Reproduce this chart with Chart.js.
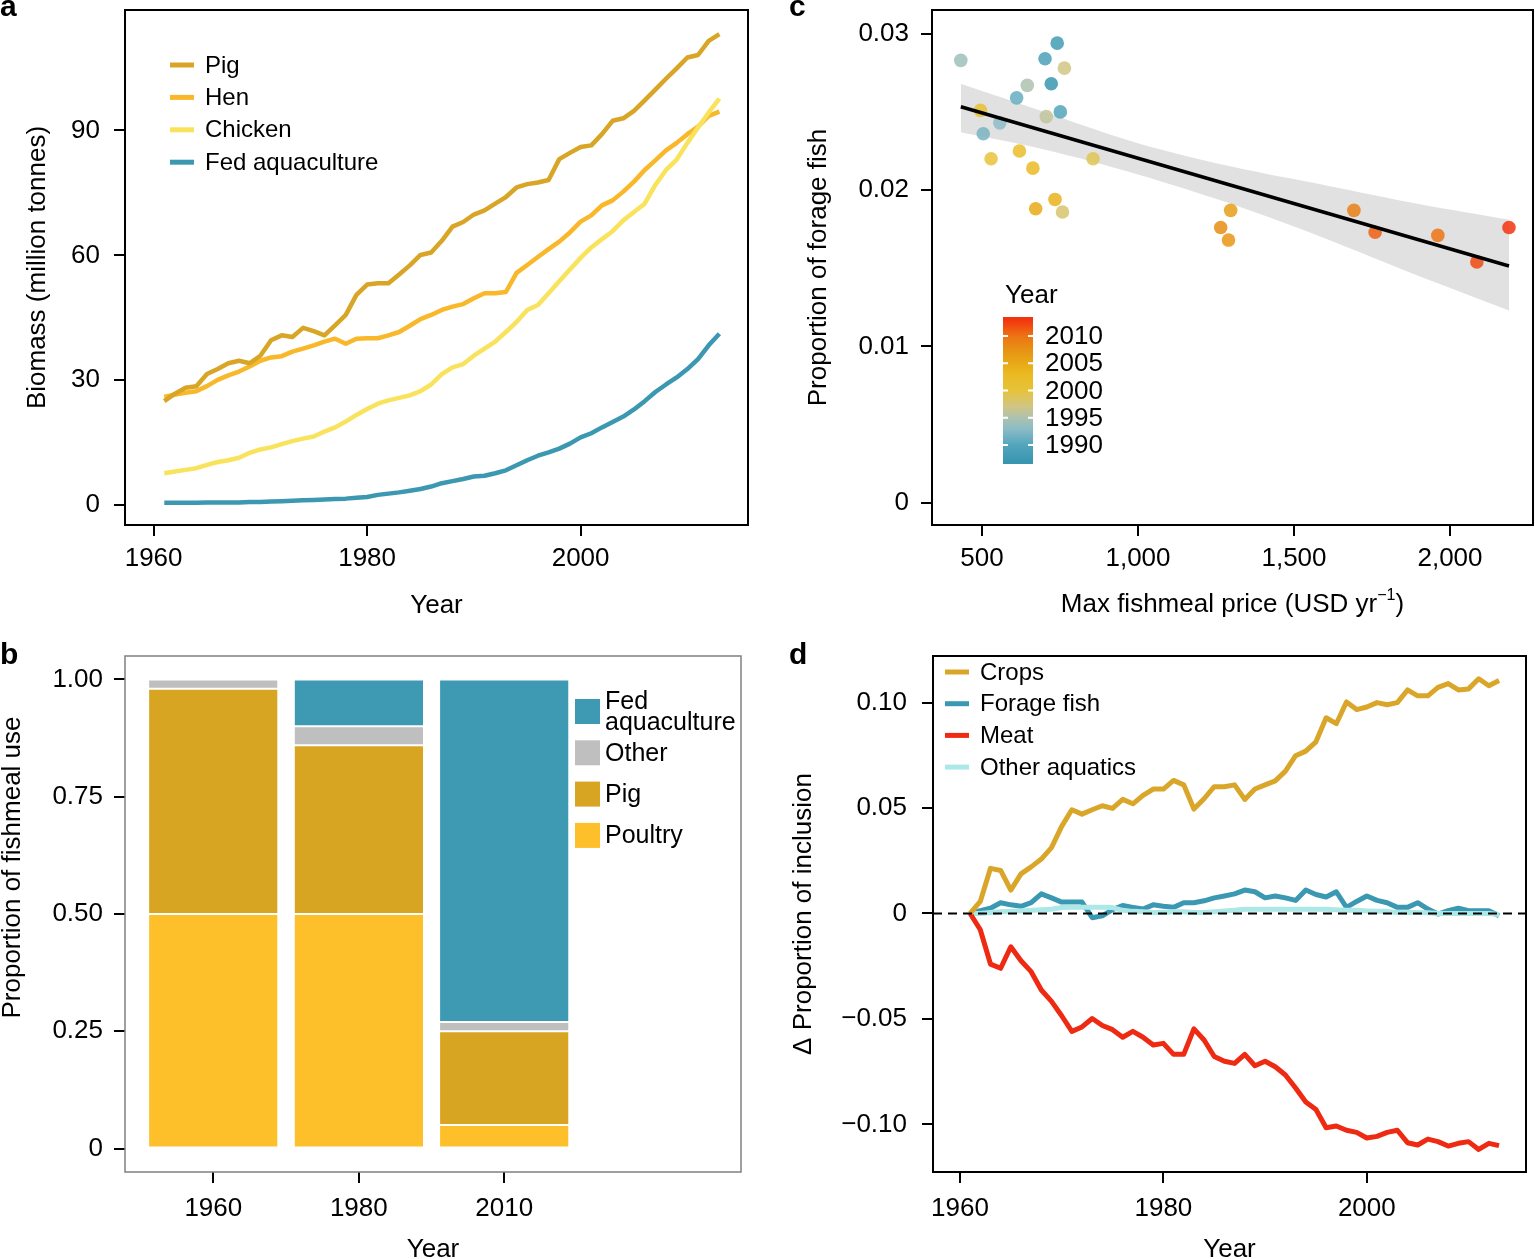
<!DOCTYPE html>
<html>
<head>
<meta charset="utf-8">
<title>Fishmeal and feed</title>
<script src="https://cdn.jsdelivr.net/npm/chart.js@4.4.1/dist/chart.umd.min.js"></script>
<style>
  html, body { margin: 0; padding: 0; background: #fff; }
  body { position: relative; width: 1535px; height: 1259px; overflow: hidden;
         font-family: 'Liberation Sans', Arial, Helvetica, sans-serif; }
  .panel { position: absolute; }
  .tag { position: absolute; font-size: 30px; font-weight: bold; line-height: 30px; }
</style>
</head>
<body>
<canvas id="chartA" class="panel" width="760" height="640" style="left:0;top:0"></canvas>
<canvas id="chartB" class="panel" width="760" height="640" style="left:0;top:640px"></canvas>
<canvas id="chartC" class="panel" width="775" height="640" style="left:760px;top:0"></canvas>
<canvas id="chartD" class="panel" width="775" height="640" style="left:760px;top:640px"></canvas>
<div class="tag" style="left:0;top:-9px">a</div>
<div class="tag" style="left:0;top:639px">b</div>
<div class="tag" style="left:789px;top:-9px">c</div>
<div class="tag" style="left:789px;top:639px">d</div>
<script>
// ---- data: panel a (biomass, million tonnes) ----
var years = [];
for (var yr = 1961; yr <= 2013; yr++) years.push(yr);

var pigBiomass = [25.0, 26.8, 28.2, 28.6, 31.5, 32.7, 34.1, 34.7, 34.1, 35.9,
  39.6, 40.8, 40.4, 42.6, 41.8, 40.8, 43.2, 45.7, 50.5, 53.0,
  53.3, 53.3, 55.4, 57.6, 60.1, 60.7, 63.5, 66.9, 68.0, 69.8,
  70.8, 72.4, 74.0, 76.3, 77.1, 77.5, 78.1, 83.1, 84.6, 86.0,
  86.4, 89.1, 92.3, 92.9, 94.7, 97.2, 99.8, 102.4, 104.9, 107.5,
  108.1, 111.5, 113.1];
var henBiomass = [26.0, 26.6, 27.0, 27.4, 28.6, 30.1, 31.2, 32.1, 33.3, 34.7,
  35.5, 35.8, 36.9, 37.6, 38.4, 39.3, 40.0, 38.8, 40.0, 40.1,
  40.1, 40.8, 41.6, 43.1, 44.7, 45.7, 46.9, 47.7, 48.3, 49.7,
  50.9, 50.9, 51.2, 55.8, 57.7, 59.6, 61.5, 63.3, 65.5, 68.1,
  69.6, 72.0, 73.2, 75.3, 77.7, 80.5, 82.8, 85.2, 87.0, 89.1,
  90.9, 93.5, 94.5];
var chickenBiomass = [7.7, 8.1, 8.5, 8.9, 9.7, 10.4, 10.8, 11.4, 12.6, 13.4,
  13.9, 14.7, 15.4, 16.0, 16.5, 17.7, 18.7, 20.1, 21.7, 23.1,
  24.4, 25.2, 25.8, 26.4, 27.4, 29.0, 31.5, 33.1, 33.9, 35.9,
  37.6, 39.3, 41.6, 44.0, 46.9, 48.1, 50.9, 53.8, 56.6, 59.4,
  61.9, 63.9, 65.8, 68.4, 70.4, 72.4, 76.9, 80.5, 83.0, 87.0,
  90.7, 94.3, 97.6];
var aquaBiomass = [0.6, 0.6, 0.6, 0.6, 0.7, 0.7, 0.7, 0.7, 0.8, 0.8,
  0.9, 1.0, 1.1, 1.2, 1.3, 1.4, 1.5, 1.6, 1.8, 2.0,
  2.5, 2.8, 3.1, 3.5, 3.9, 4.5, 5.3, 5.8, 6.3, 6.9,
  7.1, 7.7, 8.4, 9.6, 10.8, 11.9, 12.7, 13.6, 14.8, 16.3,
  17.3, 18.7, 20.0, 21.3, 23.0, 25.0, 27.2, 29.0, 30.7, 32.7,
  35.1, 38.4, 41.2];
var biomassTicks = [0, 30, 60, 90];
var yearTicks = [1960, 1980, 2000];

// ---- data: panel b (share of fishmeal use) ----
var useYears = ['1960', '1980', '2010'];
var poultryShare = [0.50, 0.50, 0.05];
var pigShare = [0.48, 0.36, 0.20];
var otherShare = [0.02, 0.04, 0.02];
var aquacultureShare = [0.00, 0.10, 0.73];
var shareTicks = [0, 0.25, 0.5, 0.75, 1];
var shareTickLabels = ['0', '0.25', '0.50', '0.75', '1.00'];

// ---- data: panel c (forage fish vs fishmeal price) ----
var priceYears = [1987, 1988, 1989, 1990, 1991, 1992, 1993, 1994, 1995, 1996,
  1997, 1998, 1999, 2000, 2001, 2002, 2003, 2004, 2005, 2006,
  2007, 2008, 2009, 2010, 2011, 2012, 2013];
var maxPrice = [722, 741, 702, 751, 611, 504, 557, 432, 645, 706,
  764, 758, 856, 529, 495, 620, 663, 734, 672, 1297,
  1290, 1265, 1692, 1961, 1760, 2086, 2189];
var forageShare = [0.0268, 0.0294, 0.0284, 0.0250, 0.0259, 0.0236, 0.0243, 0.0283, 0.0267, 0.0247,
  0.0278, 0.0186, 0.0220, 0.0220, 0.0251, 0.0225, 0.0214, 0.0194, 0.0188, 0.0187,
  0.0168, 0.0176, 0.0187, 0.0171, 0.0173, 0.0154, 0.0176];
var fitPrice = [432, 2189];
var fitShare = [0.02533, 0.01514];
var bandPrice = [432, 700, 1000, 1300, 1600, 1900, 2189];
var bandUpper = [0.0268, 0.0250, 0.0230, 0.0215, 0.0203, 0.0191, 0.0181];
var bandLower = [0.0237, 0.0226, 0.0210, 0.0191, 0.0169, 0.0145, 0.0123];
var priceTicks = [500, 1000, 1500, 2000];
var priceTickLabels = ['500', '1,000', '1,500', '2,000'];
var forageTicks = [0, 0.01, 0.02, 0.03];
var forageTickLabels = ['0', '0.01', '0.02', '0.03'];
var colorbarTicks = [1990, 1995, 2000, 2005, 2010];

// ---- data: panel d (change in proportion of inclusion) ----
var cropsDelta = [0, 0.0057, 0.0214, 0.0204, 0.0111, 0.0188, 0.0221, 0.0258, 0.0312, 0.0413,
  0.0492, 0.0471, 0.0492, 0.0511, 0.0498, 0.0541, 0.0520, 0.0560, 0.0590, 0.0590,
  0.0631, 0.0610, 0.0495, 0.0544, 0.0601, 0.0601, 0.0610, 0.0541, 0.0590, 0.0610,
  0.0629, 0.0675, 0.0748, 0.0770, 0.0814, 0.0928, 0.0900, 0.1003, 0.0967, 0.0979,
  0.1000, 0.0990, 0.1000, 0.1060, 0.1032, 0.1032, 0.1072, 0.1090, 0.1060, 0.1065,
  0.1113, 0.1080, 0.1105];
var forageDelta = [0, 0.0013, 0.0025, 0.0051, 0.0041, 0.0034, 0.0051, 0.0093, 0.0074, 0.0054,
  0.0054, 0.0054, -0.0020, -0.0011, 0.0018, 0.0038, 0.0029, 0.0021, 0.0041, 0.0034,
  0.0029, 0.0051, 0.0051, 0.0060, 0.0074, 0.0083, 0.0093, 0.0111, 0.0103, 0.0074,
  0.0083, 0.0074, 0.0062, 0.0111, 0.0090, 0.0078, 0.0103, 0.0029, 0.0057, 0.0083,
  0.0062, 0.0051, 0.0029, 0.0029, 0.0051, 0.0021, -0.0003, 0.0013, 0.0025, 0.0013,
  0.0013, 0.0013, -0.0011];
var meatDelta = [0, -0.0077, -0.0240, -0.0260, -0.0158, -0.0224, -0.0276, -0.0363, -0.0417, -0.0485,
  -0.0559, -0.0538, -0.0498, -0.0531, -0.0551, -0.0587, -0.0559, -0.0587, -0.0624, -0.0616,
  -0.0668, -0.0668, -0.0547, -0.0600, -0.0678, -0.0701, -0.0711, -0.0668, -0.0722, -0.0701,
  -0.0727, -0.0766, -0.0828, -0.0894, -0.0930, -0.1016, -0.1008, -0.1028, -0.1038, -0.1065,
  -0.1057, -0.1038, -0.1028, -0.1087, -0.1098, -0.1070, -0.1082, -0.1103, -0.1090, -0.1082,
  -0.1119, -0.1090, -0.1101];
var otherAquaDelta = [0, 0, 0.0005, 0.0008, 0.0010, 0.0012, 0.0015, 0.0018, 0.0020, 0.0028,
  0.0030, 0.0030, 0.0030, 0.0030, 0.0028, 0.0015, 0.0010, 0.0008, 0.0005, 0.0005,
  0.0008, 0.0008, 0.0005, 0.0005, 0.0008, 0.0012, 0.0015, 0.0020, 0.0020, 0.0020,
  0.0020, 0.0020, 0.0020, 0.0020, 0.0020, 0.0020, 0.0018, 0.0015, 0.0015, 0.0012,
  0.0010, 0.0010, 0.0005, 0.0005, 0.0005, 0.0003, 0, 0, 0, 0,
  0, 0, -0.0005];
var inclusionTicks = [-0.1, -0.05, 0, 0.05, 0.1];
var inclusionTickLabels = ['\u22120.10', '\u22120.05', '0', '0.05', '0.10'];

// colour ramp used for the year scale in panel c
var rampYears = [1987, 1990, 1993, 1995, 1997, 2000, 2003, 2005, 2008, 2010, 2013];
var rampColors = ['#3a96b0', '#52a5bd', '#8cbcc5', '#adc2ae', '#d0c586', '#e6c33a',
  '#eaba22', '#e8a917', '#e88c13', '#ec7414', '#f2340e'];

(function() {
    'use strict';

    var FAMILY = "'Liberation Sans', Arial, Helvetica, sans-serif";
    Chart.defaults.font.family = FAMILY;
    Chart.defaults.color = '#000';
    Chart.defaults.animation = false;

    function pairs(xs, ys) {
        return ys.map(function(v, i) { return { x: xs[i], y: v }; });
    }

    function axis(o) {
        return {
            type: 'linear',
            min: o.min,
            max: o.max,
            stacked: !!o.stacked,
            offset: false,
            afterBuildTicks: function(sc) {
                sc.ticks = o.ticks.map(function(v) { return { value: v }; });
            },
            afterFit: function(sc) {
                if (o.horizontal) sc.height = o.size; else sc.width = o.size;
                // keep the plot box exactly where the layout padding puts it
                sc.paddingTop = 0; sc.paddingBottom = 0;
                sc.paddingLeft = 0; sc.paddingRight = 0;
            },
            grid: { drawOnChartArea: false, drawTicks: true, tickLength: 11, offset: false,
                    color: '#000', lineWidth: 2 },
            border: { display: false },
            ticks: {
                font: { size: 26 }, color: '#000', padding: o.padding,
                autoSkip: false, maxRotation: 0, minRotation: 0,
                callback: function(v) {
                    var i = o.ticks.indexOf(v);
                    return o.labels ? o.labels[i] : String(v);
                }
            },
            title: o.title
                ? { display: true, text: o.title, font: { size: 26 }, color: '#000', padding: o.titlePad }
                : { display: false }
        };
    }

    function frame(color, width) {
        return {
            id: 'frame',
            afterDatasetsDraw: function(chart) {
                var a = chart.chartArea, ctx = chart.ctx;
                ctx.save();
                ctx.strokeStyle = color;
                ctx.lineWidth = width;
                ctx.strokeRect(a.left, a.top, a.right - a.left, a.bottom - a.top);
                ctx.restore();
            }
        };
    }

    function lineLegend(cfg) {
        return {
            id: 'lineLegend',
            afterDraw: function(chart) {
                var ctx = chart.ctx;
                ctx.save();
                ctx.font = cfg.size + 'px ' + FAMILY;
                ctx.textBaseline = 'middle';
                cfg.order.forEach(function(di, row) {
                    var ds = chart.data.datasets[di];
                    var y = cfg.y + row * cfg.step;
                    ctx.strokeStyle = ds.borderColor;
                    ctx.lineWidth = cfg.lineWidth;
                    ctx.beginPath();
                    ctx.moveTo(cfg.x, y);
                    ctx.lineTo(cfg.x + cfg.swatch, y);
                    ctx.stroke();
                    ctx.fillStyle = '#000';
                    ctx.fillText(ds.label, cfg.textX, y + 1);
                });
                ctx.restore();
            }
        };
    }

    function boxLegend(cfg) {
        return {
            id: 'boxLegend',
            afterDraw: function(chart) {
                var ctx = chart.ctx;
                ctx.save();
                ctx.font = cfg.size + 'px ' + FAMILY;
                ctx.textBaseline = 'middle';
                cfg.order.forEach(function(di, row) {
                    var ds = chart.data.datasets[di];
                    var top = cfg.y + row * cfg.step;
                    ctx.fillStyle = ds.backgroundColor;
                    ctx.fillRect(cfg.x, top, cfg.box, cfg.box);
                    var lines = ds.label.split('\n');
                    var mid = top + cfg.box / 2;
                    var first = mid - (lines.length - 1) * cfg.lineHeight / 2;
                    ctx.fillStyle = '#000';
                    lines.forEach(function(t, k) {
                        ctx.fillText(t, cfg.textX, first + k * cfg.lineHeight + 1);
                    });
                });
                ctx.restore();
            }
        };
    }

    function textNote(cfg) {
        return {
            id: 'textNote' + cfg.key,
            afterDraw: function(chart) {
                var ctx = chart.ctx;
                ctx.save();
                ctx.translate(cfg.x, cfg.y);
                if (cfg.rotate) ctx.rotate(cfg.rotate);
                ctx.textBaseline = 'middle';
                ctx.textAlign = 'left';
                ctx.fillStyle = '#000';
                var parts = cfg.parts;
                var total = 0;
                parts.forEach(function(p) {
                    ctx.font = (p.sup ? cfg.size * 0.62 : cfg.size) + 'px ' + FAMILY;
                    p.w = ctx.measureText(p.text).width;
                    total += p.w;
                });
                var x = -total / 2;
                parts.forEach(function(p) {
                    ctx.font = (p.sup ? cfg.size * 0.62 : cfg.size) + 'px ' + FAMILY;
                    ctx.fillText(p.text, x, p.sup ? -cfg.size * 0.36 : 0);
                    x += p.w;
                });
                ctx.restore();
            }
        };
    }

    function hexToRgb(h) {
        var n = parseInt(h.slice(1), 16);
        return [(n >> 16) & 255, (n >> 8) & 255, n & 255];
    }

    function yearColor(year, alpha) {
        var i = 0;
        while (i < rampYears.length - 2 && year > rampYears[i + 1]) i++;
        var t = (year - rampYears[i]) / (rampYears[i + 1] - rampYears[i]);
        t = Math.max(0, Math.min(1, t));
        var a = hexToRgb(rampColors[i]), b = hexToRgb(rampColors[i + 1]);
        var c = a.map(function(v, k) { return Math.round(v + (b[k] - v) * t); });
        return 'rgba(' + c.join(',') + ',' + alpha + ')';
    }

    var colorBar = {
        id: 'colorBar',
        afterDraw: function(chart) {
            var ctx = chart.ctx;
            var left = 243, width = 30, top = 317, bottom = 464;
            var lo = priceYears[0] - 0.5, hi = priceYears[priceYears.length - 1] + 0.5;
            var g = ctx.createLinearGradient(0, bottom, 0, top);
            rampYears.forEach(function(y, k) {
                var f = (y - lo) / (hi - lo);
                g.addColorStop(Math.max(0, Math.min(1, f)), rampColors[k]);
            });
            ctx.save();
            ctx.fillStyle = g;
            ctx.fillRect(left, top, width, bottom - top);
            ctx.font = '26px ' + FAMILY;
            ctx.textBaseline = 'middle';
            ctx.fillStyle = '#000';
            ctx.fillText('Year', 245, 296);
            colorbarTicks.forEach(function(y) {
                var py = bottom - (y - lo) / (hi - lo) * (bottom - top);
                ctx.strokeStyle = '#fff';
                ctx.lineWidth = 2;
                ctx.beginPath();
                ctx.moveTo(left, py); ctx.lineTo(left + 5, py);
                ctx.moveTo(left + width - 5, py); ctx.lineTo(left + width, py);
                ctx.stroke();
                ctx.fillStyle = '#000';
                ctx.fillText(String(y), 285, py + 1);
            });
            ctx.restore();
        }
    };

    function zeroLine() {
        return {
            id: 'zeroLine',
            afterDatasetsDraw: function(chart) {
                var a = chart.chartArea, ctx = chart.ctx;
                var y = chart.scales.y.getPixelForValue(0);
                ctx.save();
                ctx.strokeStyle = '#000';
                ctx.lineWidth = 2;
                ctx.setLineDash([9, 6]);
                ctx.beginPath();
                ctx.moveTo(a.left, y);
                ctx.lineTo(a.right, y);
                ctx.stroke();
                ctx.restore();
            }
        };
    }

    var common = {
        responsive: false,
        events: [],
        plugins: { legend: { display: false }, tooltip: { enabled: false } },
        elements: { point: { radius: 0 }, line: { tension: 0, borderJoinStyle: 'round', borderCapStyle: 'butt' } }
    };

    function layoutPad(top, right) {
        return { autoPadding: false, padding: { left: 0, top: top, right: right, bottom: 0 } };
    }

    function lineSet(label, xs, ys, color, width, order) {
        return { label: label, data: pairs(xs, ys), borderColor: color, backgroundColor: color,
                 borderWidth: width, pointRadius: 0, fill: false, order: order };
    }

    // ---- a ----
    new Chart(document.getElementById('chartA'), {
        type: 'line',
        data: {
            datasets: [
                lineSet('Pig', years, pigBiomass, '#d8a526', 4.5, 0),
                lineSet('Hen', years, henBiomass, '#f8b82a', 4.5, 2),
                lineSet('Chicken', years, chickenBiomass, '#f9e35c', 4.5, 1),
                lineSet('Fed aquaculture', years, aquaBiomass, '#3c98b1', 4.5, 3)
            ]
        },
        options: Object.assign({}, common, {
            layout: layoutPad(10, 12),
            scales: {
                x: axis({ min: 1957.32, max: 2015.68, ticks: yearTicks, horizontal: true, size: 115,
                          padding: 7, title: 'Year', titlePad: { top: 0, bottom: 19 } }),
                y: axis({ min: -4.73, max: 118.9, ticks: biomassTicks, size: 125, padding: 14,
                          title: 'Biomass (million tonnes)', titlePad: { top: 22, bottom: 0 } })
            }
        }),
        plugins: [frame('#000', 2),
                  lineLegend({ order: [0, 1, 2, 3], x: 170, swatch: 24, textX: 205, y: 65, step: 32.4,
                               size: 24, lineWidth: 5 })]
    });

    // ---- b ----
    function barSet(label, values, color) {
        return { label: label, data: pairs([0, 1, 2], values), backgroundColor: color,
                 borderColor: '#fff', borderWidth: { top: 1, bottom: 1, left: 0, right: 0 },
                 borderSkipped: false, barPercentage: 0.883, categoryPercentage: 1 };
    }
    new Chart(document.getElementById('chartB'), {
        type: 'bar',
        data: {
            datasets: [
                barSet('Poultry', poultryShare, '#fdbf2a'),
                barSet('Pig', pigShare, '#d8a523'),
                barSet('Other', otherShare, '#bfbfbf'),
                barSet('Fed\naquaculture', aquacultureShare, '#3d9ab2')
            ]
        },
        options: Object.assign({}, common, {
            layout: layoutPad(16, 19),
            scales: {
                x: axis({ min: -0.607, max: 3.627, ticks: [0, 1, 2], labels: useYears, stacked: true,
                          horizontal: true, size: 108, padding: 10,
                          title: 'Year', titlePad: { top: 0, bottom: 15 } }),
                y: axis({ min: -0.05, max: 1.05, ticks: shareTicks, labels: shareTickLabels, stacked: true,
                          size: 125, padding: 11 })
            }
        }),
        plugins: [frame('#808080', 1.5),
                  boxLegend({ order: [3, 2, 1, 0], x: 575, box: 25, textX: 605, y: 59, step: 41.3,
                              size: 25, lineHeight: 21.5 }),
                  textNote({ key: 'y', x: 13, y: 227.5, rotate: -Math.PI / 2, size: 26,
                             parts: [{ text: 'Proportion of fishmeal use' }] })]
    });

    // ---- c ----
    new Chart(document.getElementById('chartC'), {
        type: 'scatter',
        data: {
            datasets: [
                { type: 'line', label: 'upper', data: pairs(bandPrice, bandUpper), borderWidth: 0,
                  borderColor: 'rgba(0,0,0,0)', pointRadius: 0, fill: false, tension: 0.35, order: 3 },
                { type: 'line', label: 'lower', data: pairs(bandPrice, bandLower), borderWidth: 0,
                  borderColor: 'rgba(0,0,0,0)', backgroundColor: '#e1e1e1', pointRadius: 0,
                  fill: '-1', tension: 0.35, order: 2 },
                { label: 'Forage fish share', data: pairs(maxPrice, forageShare),
                  backgroundColor: priceYears.map(function(y) { return yearColor(y, 0.85); }),
                  borderWidth: 0, pointRadius: 6.8, order: 1 },
                { type: 'line', label: 'fit', data: pairs(fitPrice, fitShare), borderColor: '#000',
                  borderWidth: 3.5, pointRadius: 0, fill: false, order: 0 }
            ]
        },
        options: Object.assign({}, common, {
            layout: layoutPad(10, 2),
            scales: {
                x: axis({ min: 339.7, max: 2266, ticks: priceTicks, labels: priceTickLabels, horizontal: true,
                          size: 115, padding: 7 }),
                y: axis({ min: -0.00143, max: 0.03152, ticks: forageTicks, labels: forageTickLabels,
                          size: 172, padding: 12,
                          title: 'Proportion of forage fish', titlePad: { top: 43, bottom: 0 } })
            }
        }),
        plugins: [frame('#000', 2), colorBar,
                  textNote({ key: 'x', x: 472.5, y: 605, size: 26,
                             parts: [{ text: 'Max fishmeal price (USD yr' }, { text: '\u22121', sup: true },
                                     { text: ')' }] })]
    });

    // ---- d ----
    new Chart(document.getElementById('chartD'), {
        type: 'line',
        data: {
            datasets: [
                lineSet('Crops', years, cropsDelta, '#d9a62a', 5, 0),
                lineSet('Forage fish', years, forageDelta, '#3a98b2', 5, 2),
                lineSet('Meat', years, meatDelta, '#ee2a12', 5, 0),
                lineSet('Other aquatics', years, otherAquaDelta, '#ade8e8', 5, 1)
            ]
        },
        options: Object.assign({}, common, {
            layout: layoutPad(16, 9),
            scales: {
                x: axis({ min: 1957.35, max: 2015.65, ticks: yearTicks, horizontal: true, size: 108,
                          padding: 10, title: 'Year', titlePad: { top: 0, bottom: 15 } }),
                y: axis({ min: -0.1226, max: 0.1221, ticks: inclusionTicks, labels: inclusionTickLabels,
                          size: 173, padding: 15,
                          title: '\u0394 Proportion of inclusion', titlePad: { top: 28, bottom: 0 } })
            }
        }),
        plugins: [frame('#000', 2), zeroLine(),
                  lineLegend({ order: [0, 1, 2, 3], x: 185, swatch: 24, textX: 220, y: 32, step: 31.7,
                               size: 24, lineWidth: 5 })]
    });
})();
</script>
</body>
</html>
